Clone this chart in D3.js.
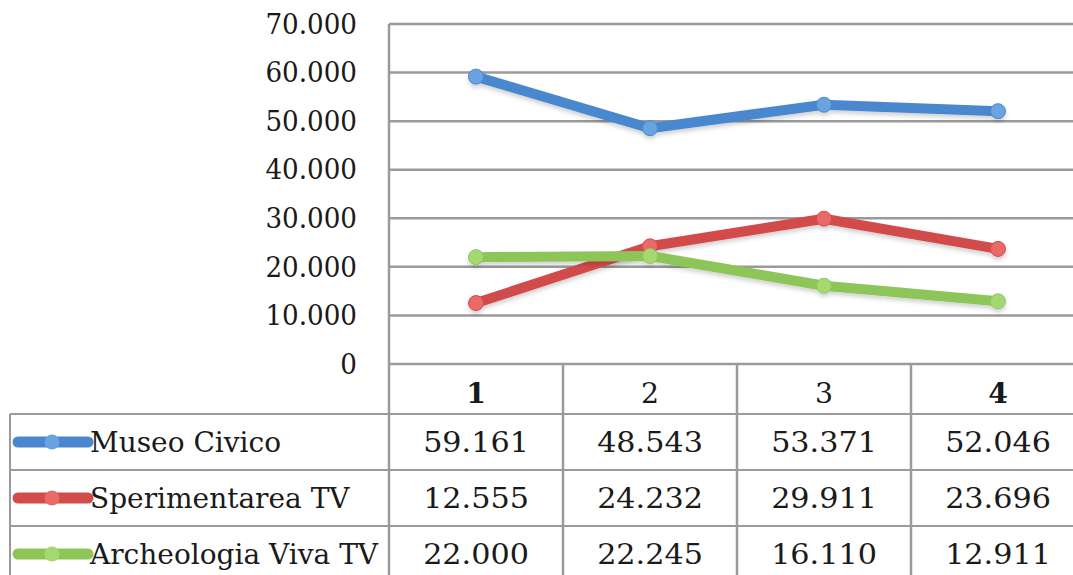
<!DOCTYPE html>
<html><head><meta charset="utf-8">
<script src="https://cdn.jsdelivr.net/npm/d3@7"></script>
<style>
html,body{margin:0;padding:0;background:#fff;}
svg{display:block;}
text{font-family:"DejaVu Serif","Liberation Serif",serif;fill:#1a1a1a;}
</style></head>
<body>
<svg id="c" width="1073" height="575"></svg>
<script>
const categories = ["1","2","3","4"];
const boldCategories = ["1","4"];
const seriesNames = ["Museo Civico","Sperimentarea TV","Archeologia Viva TV"];
const museoCivico = [59161, 48543, 53371, 52046];
const sperimentarea = [12555, 24232, 29911, 23696];
const archeologia = [22000, 22245, 16110, 12911];
const yTicks = [0,10000,20000,30000,40000,50000,60000,70000];
const colors = ["#4a87cf","#d24c4c","#8dc558"];
const markerColors = ["#6aa3e0","#ea6a6a","#a6d872"];

const seriesValues = [museoCivico, sperimentarea, archeologia];

const loc = d3.formatLocale({decimal:",", thousands:".", grouping:[3], currency:["",""]});
const fmt = loc.format(",d");

const svg = d3.select("#c");
const W = 1073, H = 575;
const plotLeft = 389, plotRight = 1085, plotTop = 24, plotBottom = 364;
const headerBottom = 414, rowH = 56, tableLeft = 10;

const defs = svg.append("defs");
const f = defs.append("filter").attr("id","sh").attr("x","-20%").attr("y","-20%").attr("width","140%").attr("height","160%");
f.append("feDropShadow").attr("dx",0).attr("dy",3).attr("stdDeviation",2).attr("flood-color","#000").attr("flood-opacity",0.18);

const x = d3.scaleBand().domain(categories).range([plotLeft, plotRight]).padding(0);
const y = d3.scaleLinear().domain([0,70000]).range([plotBottom, plotTop]);

const grid = "#9a9a9a";

// horizontal gridlines
svg.append("g").selectAll("line").data(yTicks).join("line")
  .attr("x1", plotLeft).attr("x2", W)
  .attr("y1", d=>y(d)).attr("y2", d=>y(d))
  .attr("stroke", grid).attr("stroke-width", 2.5);

// y tick labels
svg.append("g").selectAll("text").data(yTicks).join("text")
  .attr("transform", d=>`translate(357,${y(d)}) scale(0.97,1)`)
  .attr("text-anchor","end").attr("dy","0.36em")
  .style("font-size","27px")
  .text(d=>fmt(d));

// left axis vertical line (through header and table)
const tableBottom = headerBottom + rowH*seriesNames.length;
svg.append("line").attr("x1",plotLeft).attr("x2",plotLeft).attr("y1",plotTop).attr("y2",tableBottom)
  .attr("stroke",grid).attr("stroke-width",2.5);

// column dividers in header + table
svg.append("g").selectAll("line").data(categories.slice(1)).join("line")
  .attr("x1", d=>x(d)).attr("x2", d=>x(d))
  .attr("y1", plotBottom).attr("y2", tableBottom)
  .attr("stroke", grid).attr("stroke-width", 2.5);

// table horizontal lines
const rowLines = d3.range(seriesNames.length+1).map(i=>headerBottom + i*rowH);
svg.append("g").selectAll("line").data(rowLines).join("line")
  .attr("x1", tableLeft).attr("x2", W)
  .attr("y1", d=>d).attr("y2", d=>d)
  .attr("stroke", grid).attr("stroke-width", 2);
svg.append("line").attr("x1",tableLeft).attr("x2",tableLeft).attr("y1",headerBottom).attr("y2",tableBottom)
  .attr("stroke",grid).attr("stroke-width",2);

// header labels
svg.append("g").selectAll("text").data(categories).join("text")
  .attr("transform", d=>`translate(${x(d)+x.bandwidth()/2},${(plotBottom+headerBottom)/2+4}) scale(1.05,1)`)
  .attr("text-anchor","middle").attr("dy","0.36em")
  .style("font-size","27px")
  .style("font-weight", d=>boldCategories.includes(d)?"bold":"normal")
  .text(d=>d);

// lines
const line = d3.line().x((d,i)=>x(categories[i])+x.bandwidth()/2).y(d=>y(d));
const gl = svg.append("g");
seriesValues.forEach((vals, si)=>{
  const g = gl.append("g").attr("filter","url(#sh)");
  g.append("path").datum(vals).attr("d", line)
    .attr("fill","none").attr("stroke", colors[si]).attr("stroke-width", 10)
    .attr("stroke-linejoin","round").attr("stroke-linecap","round");
  g.selectAll("circle").data(vals).join("circle")
    .attr("cx",(d,i)=>x(categories[i])+x.bandwidth()/2).attr("cy", d=>y(d)).attr("r", 7.5)
    .attr("fill", markerColors[si]).attr("stroke", colors[si]).attr("stroke-width",1);
});

// table rows
seriesNames.forEach((name, si)=>{
  const cy = headerBottom + si*rowH + rowH/2;
  const g = svg.append("g");
  g.append("line").attr("x1",18).attr("x2",88).attr("y1",cy).attr("y2",cy)
    .attr("stroke",colors[si]).attr("stroke-width",11).attr("stroke-linecap","round");
  g.append("circle").attr("cx",52).attr("cy",cy).attr("r",7.5).attr("fill",markerColors[si]);
  g.append("text").attr("transform",`translate(90,${cy})`).attr("dy","0.36em")
    .style("font-size","28px").text(name);
  g.selectAll("text.v").data(seriesValues[si]).join("text").attr("class","v")
    .attr("transform",(d,i)=>`translate(${x(categories[i])+x.bandwidth()/2},${cy}) scale(1.08,1)`)
    .attr("text-anchor","middle").attr("dy","0.36em")
    .style("font-size","28px").text(d=>fmt(d));
});
</script>
</body></html>
